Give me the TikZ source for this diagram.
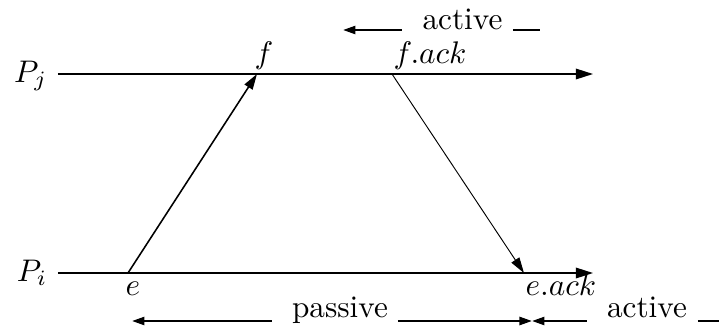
\documentclass[tikz,border=0pt]{standalone}
\usetikzlibrary{arrows.meta, positioning}

\begin{document}
\begin{tikzpicture}[
  x=0.32pt, y=-0.32pt,
  proc/.style={-{Triangle[length=5.5pt, width=3.4pt]}, line width=0.45pt},
  msg/.style={-{Triangle[length=5pt, width=3pt]}, line width=0.5pt},
  ackmsg/.style={-{Triangle[length=5pt, width=3pt]}, line width=0.3pt},
  span/.style={-{Triangle[length=4pt, width=2.6pt]}, line width=0.7pt},
  bar/.style={line width=0.7pt},
  lbl/.style={inner sep=0pt},
]
\useasboundingbox (0,0) rectangle (719,329);

% processes
\coordinate (pjstart) at (58,74);
\coordinate (pjend)   at (593,74);
\coordinate (pistart) at (58,273);
\coordinate (piend)   at (593,273);
\node[lbl, anchor=base east] (pj) at (48,82)  {$P_j$};
\node[lbl, anchor=base east] (pi) at (48,281) {$P_i$};
\draw[proc] (pistart) -- (piend);
\draw[proc] (pjstart) -- (pjend);

% events
\coordinate (e)    at (128,273);
\coordinate (f)    at (257,74);
\coordinate (fack) at (392,74);
\coordinate (eack) at (524,273);
\node[lbl, anchor=base] (elbl)    at (133,296) {$e$};
\node[lbl, anchor=base] (flbl)    at (264,63)  {$f$};
\node[lbl, anchor=base west] (facklbl) at (393,63)  {$f.ack$};
\node[lbl, anchor=base west] (eacklbl) at (525,295) {$e.ack$};

\draw[msg]    (e)    -- (f);
\draw[ackmsg] (fack) -- (eack);

% intervals
\node[lbl, anchor=base] (topact) at (462.5,29) {active};
\coordinate (ta0) at (402,30);
\coordinate (ta1) at (343,30);
\coordinate (ta2) at (513,30);
\coordinate (ta3) at (540,30);
\draw[span] (ta0) -- (ta1);
\draw[bar]  (ta2) -- (ta3);

\node[lbl, anchor=base] (pass) at (340,318) {passive};
\node[lbl, anchor=base] (botact) at (647,318) {active};
\coordinate (pa0) at (272,321);
\coordinate (pa1) at (132,321);
\coordinate (pa2) at (398,321);
\coordinate (mid) at (532,321);
\coordinate (ba0) at (587,321);
\coordinate (ba1) at (698,321);
\coordinate (ba2) at (719,321);
\draw[span] (pa0) -- (pa1);
\draw[span] (pa2) -- (mid);
\draw[span] (ba0) -- (mid);
\draw[bar]  (ba1) -- (ba2);

\end{tikzpicture}
\end{document}
